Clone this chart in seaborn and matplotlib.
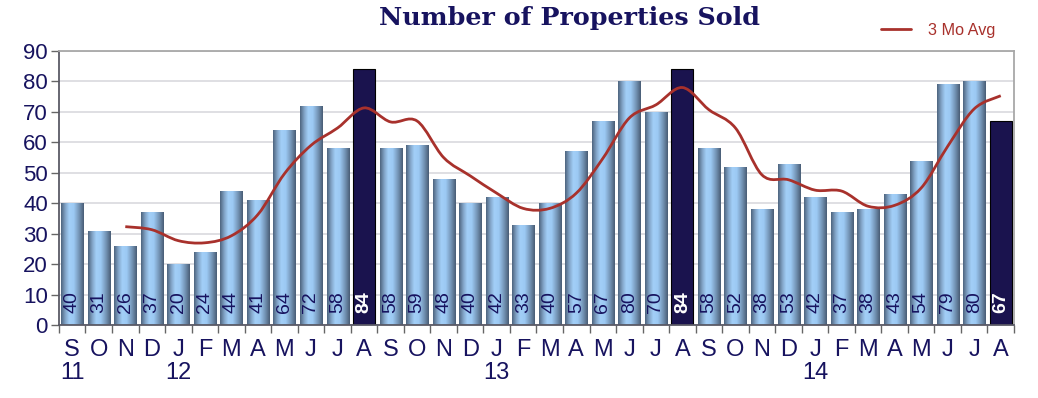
import numpy as np
import pandas as pd
import matplotlib
matplotlib.use("Agg")
import matplotlib.pyplot as plt
import seaborn as sns
from matplotlib.path import Path
from matplotlib.patches import PathPatch
from matplotlib.lines import Line2D
from matplotlib.colors import LinearSegmentedColormap

# Data (Sep 2011 - Aug 2014)
months = ["S", "O", "N", "D", "J", "F", "M", "A", "M", "J", "J", "A"] * 3
sold = [40, 31, 26, 37, 20, 24, 44, 41, 64, 72, 58, 84,
        58, 59, 48, 40, 42, 33, 40, 57, 67, 80, 70, 84,
        58, 52, 38, 53, 42, 37, 38, 43, 54, 79, 80, 67]
highlight = [11, 23, 35]  # August bars in dark navy
# 3 month average, starting at the third bar (Nov 2011)
avg3 = [32.3, 31.3, 27.7, 27.0, 29.3, 36.3, 49.7, 59.0, 64.7, 71.3, 66.7, 67.0,
        55.0, 49.0, 43.3, 38.3, 38.3, 43.3, 54.7, 68.0, 72.3, 78.0, 70.7, 64.7,
        49.3, 47.7, 44.3, 44.0, 39.0, 39.3, 45.0, 58.7, 71.0, 75.3]
year_labels = {0: "11", 4: "12", 16: "13", 28: "14"}

navy = "#17135f"
red = "#a8312c"

df = pd.DataFrame({"idx": range(len(sold)), "sold": sold})
df["kind"] = ["hi" if i in highlight else "lo" for i in df["idx"]]

sns.set_style("white")
plt.rcParams["font.family"] = ["Liberation Sans", "DejaVu Sans"]

fig = plt.figure(figsize=(10.38, 3.98), dpi=100)
ax = fig.add_axes([0.0568, 0.1834, 0.9201, 0.6885])

sns.barplot(data=df, x="idx", y="sold", hue="kind",
            palette={"hi": "#120958", "lo": "#8fbbe6"},
            width=0.83, dodge=False, legend=False, ax=ax, zorder=2)

# horizontal gradient on the light bars
grad = LinearSegmentedColormap.from_list(
    "bar", [(0.0, "#4e6580"), (0.2, "#86a9cc"), (0.36, "#a2cff8"),
            (0.56, "#9cc9f3"), (0.8, "#7393b4"), (1.0, "#495d76")])
gimg = np.linspace(0, 1, 64).reshape(1, -1)
for p in list(ax.patches):
    x0, w, h = p.get_x(), p.get_width(), p.get_height()
    i = int(round(x0 + w / 2))
    if h <= 0 or i in highlight:
        p.set_edgecolor("#000000")
        p.set_linewidth(0.8)
        continue
    p.set_edgecolor("none")
    im = ax.imshow(gimg, cmap=grad, aspect="auto",
                   extent=(x0, x0 + w, 0, h), zorder=2.1)
    im.set_clip_path(p)

# value labels inside bars
for i, v in enumerate(sold):
    if i in highlight:
        ax.text(i, 3.8, str(v), rotation=90, ha="center", va="bottom",
                color="white", fontsize=14, fontweight="bold", zorder=4)
    else:
        ax.text(i, 3.8, str(v), rotation=90, ha="center", va="bottom",
                color=navy, fontsize=14, zorder=4)

# smoothed 3 month average line
xs = np.arange(2, 2 + len(avg3))
pts = np.column_stack([xs, avg3])
verts = [pts[0]]
codes = [Path.MOVETO]
n = len(pts)
for k in range(n - 1):
    p0 = pts[max(k - 1, 0)]
    p1 = pts[k]
    p2 = pts[k + 1]
    p3 = pts[min(k + 2, n - 1)]
    verts += [p1 + (p2 - p0) / 6, p2 - (p3 - p1) / 6, p2]
    codes += [Path.CURVE4] * 3
ax.add_patch(PathPatch(Path(verts, codes), facecolor="none",
                       edgecolor=red, lw=2.0, zorder=5))

# axes styling
ax.set_xlim(-0.5, len(sold) - 0.5)
ax.set_ylim(0, 90)
ax.set_yticks(range(0, 91, 10))
ax.yaxis.grid(True, color="#d9d9de", lw=1.2, zorder=0)
ax.set_axisbelow(True)
ax.set_xticks(range(len(sold)))
ax.set_xticklabels(months, fontsize=17, color=navy)
ax.set_xticks(np.arange(-0.5, len(sold), 1), minor=True)
ax.tick_params(axis="x", which="major", length=0, pad=10)
ax.tick_params(axis="x", which="minor", length=6, width=1, color="#666666",
               direction="out", bottom=True)
ax.tick_params(axis="y", length=6, width=1, color="#666666", direction="out",
               left=True, pad=2, labelsize=16, labelcolor=navy)
ax.set_xlabel("")
ax.set_ylabel("")
for s in ["left", "bottom"]:
    ax.spines[s].set_color("#5a5a66")
    ax.spines[s].set_linewidth(1.3)
for s in ["top", "right"]:
    ax.spines[s].set_color("#a8a8a8")
    ax.spines[s].set_linewidth(1.3)

for i, yl in year_labels.items():
    ax.text(i, -15.8, yl, ha="center", va="center", fontsize=17,
            color=navy, clip_on=False)

fig.text(0.549, 0.955, "Number of Properties Sold", ha="center", va="center",
         fontsize=18.3, fontweight="bold", color=navy, family="DejaVu Serif")

ax.legend(handles=[Line2D([], [], color=red, lw=2.0)], labels=["3 Mo Avg"],
          loc="center left", bbox_to_anchor=(0.845, 1.075), frameon=False,
          fontsize=11.7, labelcolor=red, handlelength=1.9, handletextpad=1.0)

fig.savefig("out.png", dpi=100)
